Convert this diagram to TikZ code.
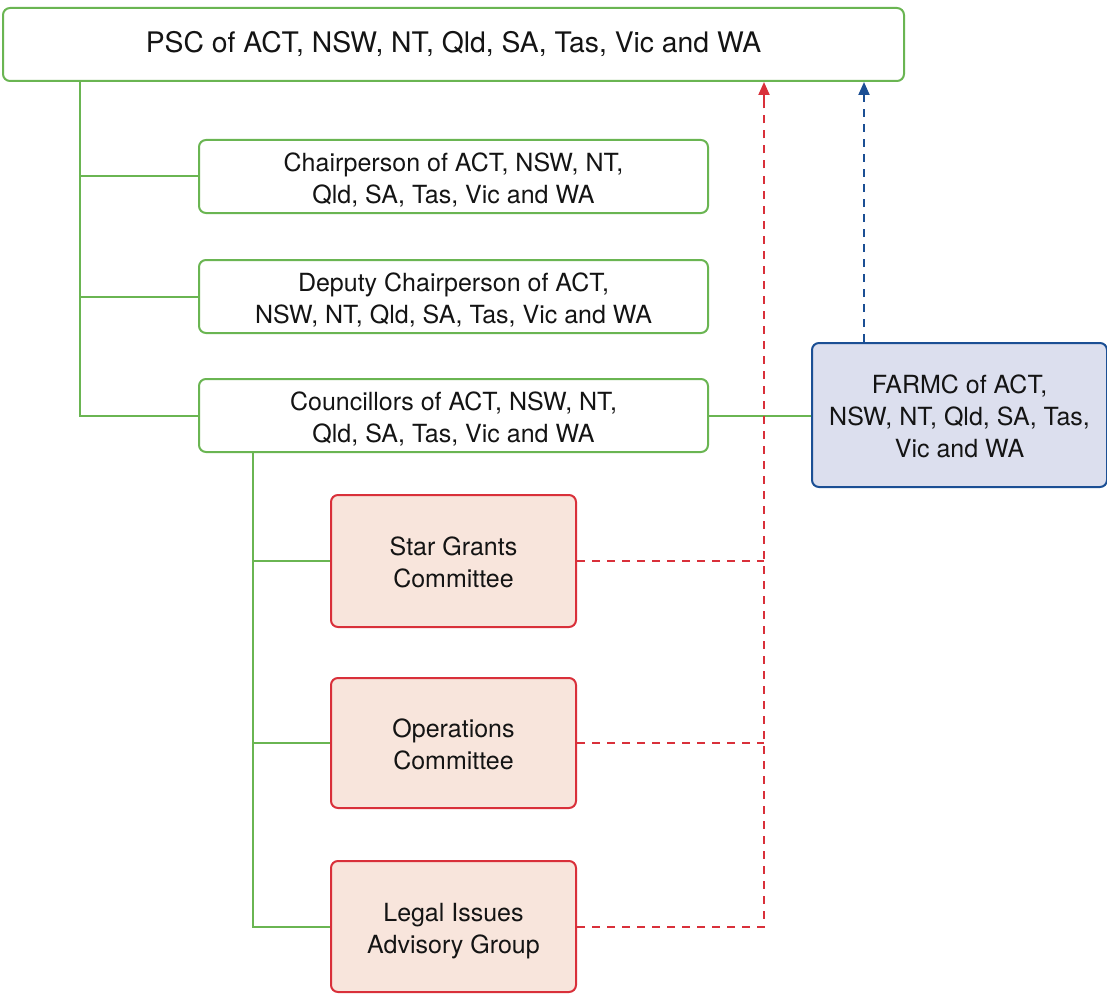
\documentclass[tikz,border=0pt]{standalone}
\usepackage{fontspec}
\setmainfont{TeX Gyre Heros}
\usetikzlibrary{arrows.meta}
\definecolor{grn}{HTML}{6AB552}
\definecolor{rd}{HTML}{D9303A}
\definecolor{pinkfill}{HTML}{F8E5DC}
\definecolor{bl}{HTML}{1B4F94}
\definecolor{blfill}{HTML}{DCDFEE}
\definecolor{txt}{HTML}{141414}
\newcommand{\topst}{\rule{0pt}{28pt}}
\newcommand{\botst}{\rule[-7pt]{0pt}{7pt}}
\begin{document}
\begin{tikzpicture}[x=1pt,y=-1pt,
  gbox/.style={draw=grn,line width=2pt,rounded corners=7pt,fill=white,align=center,
     font=\fontsize{25}{32}\selectfont,text=txt,inner sep=0pt},
  rbox/.style={draw=rd,line width=2pt,rounded corners=7pt,fill=pinkfill,align=center,
     font=\fontsize{25}{32}\selectfont,text=txt,inner sep=0pt,minimum width=245pt,minimum height=131pt},
  bbox/.style={draw=bl,line width=2pt,rounded corners=7pt,fill=blfill,align=center,
     font=\fontsize{25}{32}\selectfont,text=txt,inner sep=0pt},
  gline/.style={draw=grn,line width=2pt},
  rdash/.style={draw=rd,line width=2pt,dash pattern=on 8pt off 7pt},
  bdash/.style={draw=bl,line width=2pt,dash pattern=on 8pt off 7pt},
  tip/.style={-{Triangle[width=11pt,length=13pt]}}
]
\useasboundingbox (0,0) rectangle (1107,995);
\node[gbox,minimum width=901pt,minimum height=73pt,font=\fontsize{28.3}{32}\selectfont] (psc) at (453.5,44.5) {PSC of ACT, NSW, NT, Qld, SA, Tas, Vic and WA};
\node[gbox,minimum width=509pt,minimum height=73pt] (chair) at (453.5,176.5) {\topst Chairperson of ACT, NSW, NT,\\Qld, SA, Tas, Vic and WA\botst};
\node[gbox,minimum width=509pt,minimum height=73pt] (dep) at (453.5,296.5) {\topst Deputy Chairperson of ACT,\\NSW, NT, Qld, SA, Tas, Vic and WA\botst};
\node[gbox,minimum width=509pt,minimum height=73pt] (coun) at (453.5,415.5) {\topst Councillors of ACT, NSW, NT,\\Qld, SA, Tas, Vic and WA\botst};
\node[bbox,minimum width=295pt,minimum height=144pt] (farmc) at (959.5,415) {\topst FARMC of ACT,\\NSW, NT, Qld, SA, Tas,\\Vic and WA\botst};
\node[rbox,minimum height=132pt] (star) at (453.5,561) {\topst Star Grants\\Committee\botst};
\node[rbox,minimum height=130pt] (ops) at (453.5,743) {\topst Operations\\Committee\botst};
\node[rbox,minimum height=131pt] (legal) at (453.5,926.5) {\topst Legal Issues\\Advisory Group\botst};
\coordinate (t1) at (80,0);
\coordinate (t2) at (253,0);
\coordinate (r) at (764,0);
\coordinate (b) at (864,0);
% green tree
\draw[gline] (t1 |- psc.south) |- (coun.west);
\draw[gline] (t1 |- chair.west) -- (chair.west);
\draw[gline] (t1 |- dep.west) -- (dep.west);
\draw[gline] (t2 |- coun.south) |- (legal.west);
\draw[gline] (t2 |- star.west) -- (star.west);
\draw[gline] (t2 |- ops.west) -- (ops.west);
\draw[gline] (coun.east) -- (coun.east -| farmc.west);
% red dashed
\draw[rdash] (star.east) -- (r |- star.east);
\draw[rdash] (ops.east) -- (r |- ops.east);
\draw[rdash] (legal.east) -| (r |- 0,100);
\draw[rd,line width=2pt,tip] (r |- 0,101) -- (r |- psc.south);
% blue dashed
\draw[bdash] (b |- farmc.north) -- (b |- 0,100);
\draw[bl,line width=2pt,tip] (b |- 0,101) -- (b |- psc.south);
\end{tikzpicture}
\end{document}
